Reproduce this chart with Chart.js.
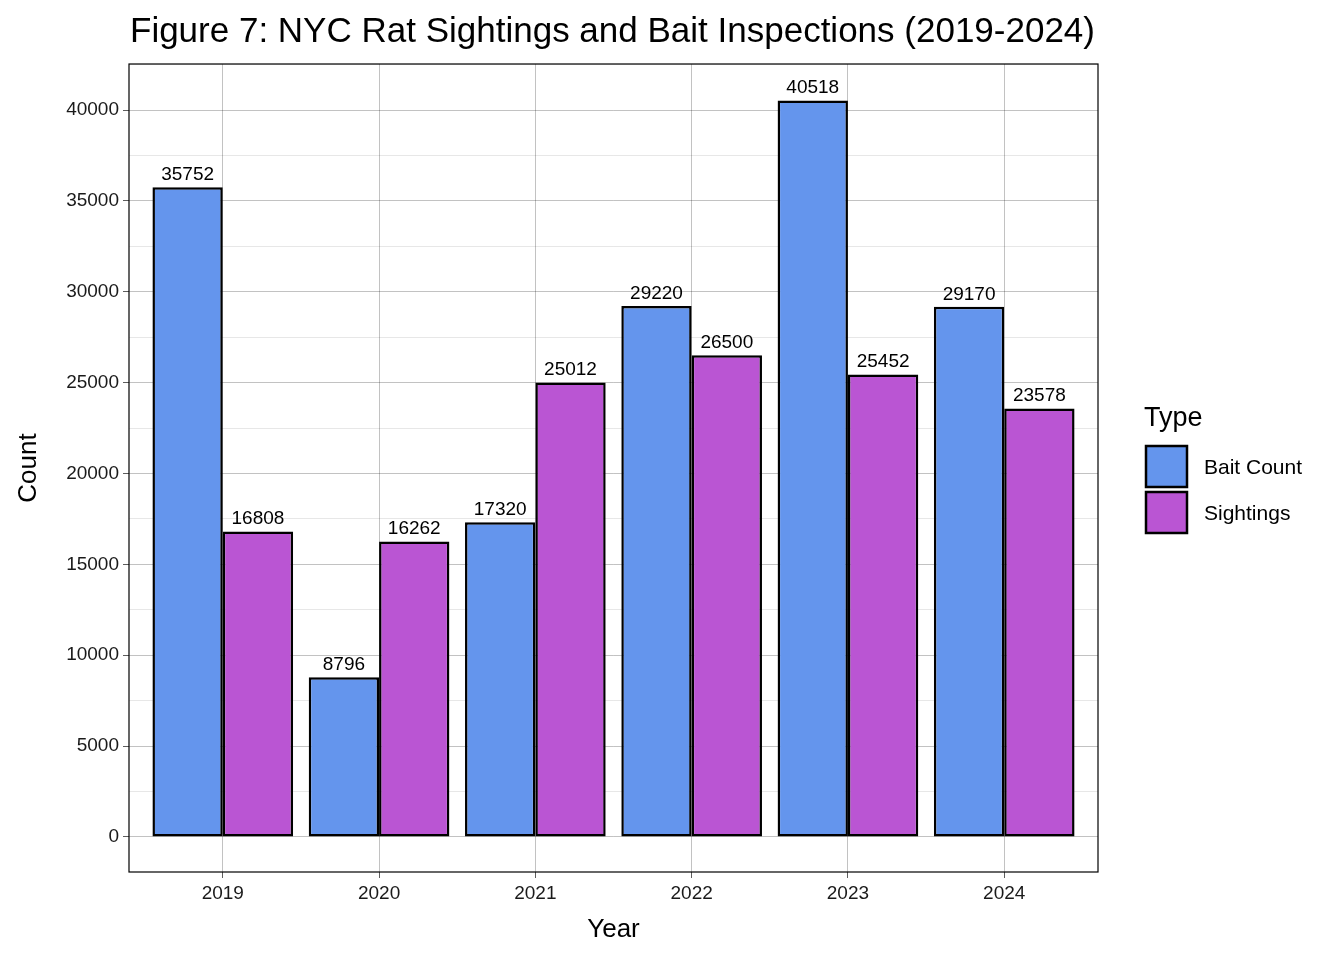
<!DOCTYPE html>
<html>
<head>
<meta charset="utf-8">
<script src="https://cdn.jsdelivr.net/npm/chart.js"></script>
<style>
  html, body { margin: 0; padding: 0; background: #fff; }
  #wrap { width: 1344px; height: 960px; }
</style>
</head>
<body>
<div id="wrap"><canvas id="chart"></canvas></div>
<script>
const years = ['2019', '2020', '2021', '2022', '2023', '2024'];
const baitCount = [35752, 8796, 17320, 29220, 40518, 29170];
const sightings = [16808, 16262, 25012, 26500, 25452, 23578];
const yTicks = [0, 5000, 10000, 15000, 20000, 25000, 30000, 35000, 40000];

const FONT = '"Liberation Sans", Arial, sans-serif';

const decor = {
  id: 'decor',
  afterDatasetsDraw(chart) {
    const ctx = chart.ctx, a = chart.chartArea;
    ctx.save();
    // value labels
    ctx.fillStyle = '#000';
    ctx.font = '19px ' + FONT;
    ctx.textAlign = 'center';
    ctx.textBaseline = 'bottom';
    chart.data.datasets.forEach((ds, i) => {
      chart.getDatasetMeta(i).data.forEach((bar, j) => {
        ctx.fillText(String(ds.data[j].y), bar.x, bar.y - 3);
      });
    });
    // panel border
    ctx.strokeStyle = '#000';
    ctx.lineWidth = 1.2;
    ctx.strokeRect(a.left, a.top, a.right - a.left, a.bottom - a.top);
    // title
    ctx.textAlign = 'left';
    ctx.textBaseline = 'alphabetic';
    ctx.font = '35px ' + FONT;
    ctx.fillText('Figure 7: NYC Rat Sightings and Bait Inspections (2019-2024)', a.left + 1, 42);
    // axis titles
    ctx.font = '26px ' + FONT;
    ctx.textAlign = 'center';
    ctx.fillText('Year', (a.left + a.right) / 2, 937);
    ctx.save();
    ctx.translate(36, (a.top + a.bottom) / 2);
    ctx.rotate(-Math.PI / 2);
    ctx.fillText('Count', 0, 0);
    ctx.restore();
    // legend
    ctx.textAlign = 'left';
    ctx.font = '27px ' + FONT;
    ctx.fillText('Type', 1144, 426);
    const items = [['Bait Count', '#6495ED'], ['Sightings', '#BA55D3']];
    ctx.font = '21px ' + FONT;
    ctx.textBaseline = 'middle';
    items.forEach((it, i) => {
      const y = 446 + i * 46;
      ctx.fillStyle = it[1];
      ctx.fillRect(1146, y, 41, 41);
      ctx.strokeStyle = '#000';
      ctx.lineWidth = 2.5;
      ctx.strokeRect(1146, y, 41, 41);
      ctx.fillStyle = '#000';
      ctx.fillText(it[0], 1204, y + 22);
    });
    ctx.restore();
  }
};

new Chart(document.getElementById('chart'), {
  type: 'bar',
  data: {
    datasets: [
      {
        label: 'Bait Count',
        data: years.map((y, i) => ({ x: i + 1, y: baitCount[i] })),
        backgroundColor: '#6495ED',
        borderColor: '#000',
        borderWidth: 2.5,
        borderSkipped: false
      },
      {
        label: 'Sightings',
        data: years.map((y, i) => ({ x: i + 1, y: sightings[i] })),
        backgroundColor: '#BA55D3',
        borderColor: '#000',
        borderWidth: 2.5,
        borderSkipped: false
      }
    ]
  },
  options: {
    responsive: true,
    maintainAspectRatio: false,
    animation: false,
    layout: { padding: { top: 64, right: 246, left: 0, bottom: 0 } },
    datasets: { bar: { categoryPercentage: 0.9, barPercentage: 1 } },
    plugins: { legend: { display: false }, title: { display: false }, tooltip: { enabled: false } },
    scales: {
      x: {
        type: 'linear',
        min: 0.4,
        max: 6.6,
        offset: false,
        afterBuildTicks(s) { s.ticks = years.map((y, i) => ({ value: i + 1 })); },
        afterFit(s) { s.height = 88; },
        ticks: {
          callback: v => years[v - 1],
          color: '#1a1a1a',
          font: { family: FONT, size: 19 },
          padding: 4
        },
        grid: { offset: false, color: 'rgba(0,0,0,0.3)', lineWidth: 0.8, tickLength: 6, tickColor: '#333' },
        border: { display: false }
      },
      y: {
        min: -1926,
        max: 42532,
        afterBuildTicks(s) {
          const t = [];
          for (let v = 0; v <= 42500; v += 2500) t.push({ value: v });
          s.ticks = t;
        },
        afterFit(s) { s.width = 129; },
        ticks: {
          callback: v => (yTicks.includes(v) ? String(v) : ''),
          color: '#1a1a1a',
          font: { family: FONT, size: 19 },
          padding: 4
        },
        grid: {
          color: c => (c.tick && c.tick.value % 5000 === 0 ? 'rgba(0,0,0,0.3)' : 'rgba(0,0,0,0.12)'),
          lineWidth: 0.8,
          tickLength: 6,
          tickColor: c => (c.tick && c.tick.value % 5000 === 0 ? '#333' : 'rgba(0,0,0,0)')
        },
        border: { display: false }
      }
    }
  },
  plugins: [decor]
});
</script>
</body>
</html>
